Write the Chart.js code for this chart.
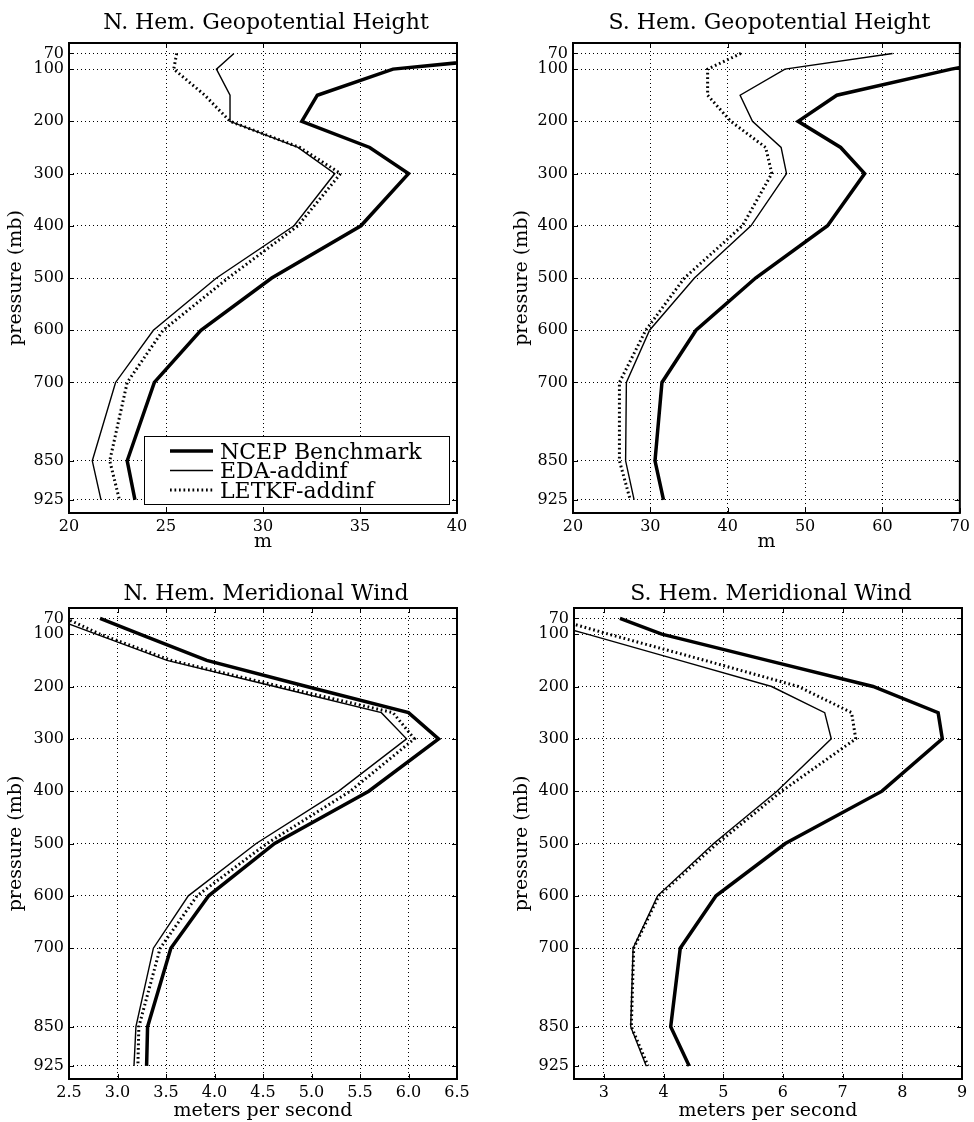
<!DOCTYPE html>
<html>
<head>
<meta charset="utf-8">
<script src="https://cdn.jsdelivr.net/npm/chart.js@4.4.1/dist/chart.umd.min.js"></script>
<style>
  body { margin: 0; background: #fff; }
  #wrap { position: relative; width: 974px; height: 1122px; }
  canvas { position: absolute; }
</style>
</head>
<body>
<div id="wrap">
  <canvas id="nhHgt" width="487" height="560" style="left:0;top:0"></canvas>
  <canvas id="shHgt" width="487" height="560" style="left:487px;top:0"></canvas>
  <canvas id="nhWind" width="487" height="556" style="left:0;top:566px"></canvas>
  <canvas id="shWind" width="487" height="556" style="left:487px;top:566px"></canvas>
</div>
<script>
// pressure levels (mb) and the labelled ticks
const levels = [70, 100, 150, 200, 250, 300, 400, 500, 600, 700, 850, 925];
const pressureTicks = [70, 100, 200, 300, 400, 500, 600, 700, 850, 925];
const seriesNames = ['NCEP Benchmark', 'EDA-addinf', 'LETKF-addinf'];

// geopotential height (m)
const nhHgtNcep  = [45.0, 36.7, 32.8, 32.0, 35.5, 37.5, 35.05, 30.45, 26.8, 24.4, 23.0, 23.4];
const nhHgtEda   = [28.5, 27.6, 28.3, 28.3, 31.8, 33.7, 31.6, 27.6, 24.35, 22.4, 21.2, 21.65];
const nhHgtLetkf = [25.55, 25.4, 27.0, 28.3, 31.9, 34.0, 31.8, 28.2, 24.85, 23.0, 22.1, 22.6];
const shHgtNcep  = [80.0, 68.9, 54.1, 49.1, 54.6, 57.7, 52.9, 43.6, 35.9, 31.5, 30.6, 31.7];
const shHgtEda   = [61.3, 47.4, 41.6, 43.2, 46.9, 47.6, 43.0, 35.7, 29.9, 26.9, 26.8, 27.9];
const shHgtLetkf = [41.7, 37.4, 37.4, 40.4, 44.9, 45.7, 41.9, 34.4, 29.4, 26.0, 26.0, 27.4];

// meridional wind (m/s)
const nhWindNcep  = [2.82, 3.23, 3.92, 4.95, 6.0, 6.31, 5.59, 4.62, 3.94, 3.55, 3.31, 3.30];
const nhWindEda   = [2.35, 2.78, 3.51, 4.62, 5.72, 5.98, 5.28, 4.43, 3.73, 3.37, 3.19, 3.17];
const nhWindLetkf = [2.47, 2.82, 3.55, 4.68, 5.84, 6.06, 5.40, 4.54, 3.82, 3.44, 3.22, 3.21];
const shWindNcep  = [3.27, 3.97, 5.74, 7.51, 8.60, 8.67, 7.66, 6.04, 4.88, 4.28, 4.12, 4.43];
const shWindEda   = [1.78, 2.72, 4.27, 5.81, 6.70, 6.81, 5.90, 4.84, 3.90, 3.49, 3.45, 3.71];
const shWindLetkf = [2.17, 3.08, 4.69, 6.26, 7.15, 7.22, 5.98, 4.90, 3.92, 3.50, 3.46, 3.74];

// x ticks per panel
const nhHgtTicks = [20, 25, 30, 35, 40];
const shHgtTicks = [20, 30, 40, 50, 60, 70];
const nhWindTicks = [2.5, 3.0, 3.5, 4.0, 4.5, 5.0, 5.5, 6.0, 6.5];
const shWindTicks = [3, 4, 5, 6, 7, 8, 9];

const SERIF = '"DejaVu Serif", serif';

const panelDecor = {
  id: 'panelDecor',
  afterDatasetsDraw(chart, args, opts) {
    const { ctx, chartArea: a, scales } = chart;
    ctx.save();

    if (opts.legend) {
      const bx = a.left + 75, by = a.bottom - 77;
      const bw = a.right - 8 - bx, bh = 68;
      ctx.fillStyle = '#fff';
      ctx.fillRect(bx, by, bw, bh);
      ctx.strokeStyle = '#000';
      ctx.lineWidth = 1;
      ctx.strokeRect(bx + 0.5, by + 0.5, bw, bh);
      chart.data.datasets.forEach((ds, i) => {
        const yy = by + 15 + i * 19.5;
        ctx.lineWidth = ds.borderWidth;
        ctx.setLineDash(ds.borderDash || []);
        ctx.beginPath();
        ctx.moveTo(bx + 26, yy);
        ctx.lineTo(bx + 69, yy);
        ctx.stroke();
        ctx.setLineDash([]);
        ctx.fillStyle = '#000';
        ctx.font = '22px ' + SERIF;
        ctx.textAlign = 'left';
        ctx.textBaseline = 'alphabetic';
        ctx.fillText(ds.label, bx + 76, yy + 7.5);
      });
    }

    // inward tick marks on all four sides
    ctx.strokeStyle = '#000';
    ctx.lineWidth = 1;
    ctx.setLineDash([]);
    ctx.beginPath();
    scales.x.ticks.forEach(t => {
      const px = Math.round(scales.x.getPixelForValue(t.value)) + 0.5;
      ctx.moveTo(px, a.bottom); ctx.lineTo(px, a.bottom - 5);
      ctx.moveTo(px, a.top); ctx.lineTo(px, a.top + 5);
    });
    scales.y.ticks.forEach(t => {
      const py = Math.round(scales.y.getPixelForValue(t.value)) + 0.5;
      ctx.moveTo(a.left, py); ctx.lineTo(a.left + 5, py);
      ctx.moveTo(a.right, py); ctx.lineTo(a.right - 5, py);
    });
    ctx.stroke();

    // frame
    ctx.lineWidth = 2;
    ctx.strokeRect(a.left, a.top, a.right - a.left, a.bottom - a.top);

    // title
    ctx.fillStyle = '#000';
    ctx.font = '22px ' + SERIF;
    ctx.textAlign = 'center';
    ctx.textBaseline = 'alphabetic';
    ctx.fillText(opts.title, (a.left + a.right) / 2 + 3, a.top - opts.titleGap);
    ctx.restore();
  }
};

function makePanel(id, p) {
  const styles = [
    { borderWidth: 3.5, borderDash: [] },
    { borderWidth: 1.4, borderDash: [] },
    { borderWidth: 3, borderDash: [1.7, 2.8] }
  ];
  const datasets = p.series.map((vals, i) => ({
    label: seriesNames[i],
    data: levels.map((lev, j) => ({ x: vals[j], y: lev })),
    borderColor: '#000',
    borderWidth: styles[i].borderWidth,
    borderDash: styles[i].borderDash,
    pointRadius: 0,
    tension: 0,
    fill: false
  }));

  return new Chart(document.getElementById(id), {
    type: 'line',
    data: { datasets },
    options: {
      responsive: false,
      animation: false,
      layout: { padding: { top: p.top, right: p.right, left: 0, bottom: 0 } },
      plugins: {
        legend: { display: false },
        tooltip: { enabled: false },
        panelDecor: { title: p.title, titleGap: p.titleGap, legend: !!p.legend }
      },
      scales: {
        x: {
          type: 'linear',
          min: p.xMin,
          max: p.xMax,
          afterBuildTicks: (axis) => { axis.ticks = p.xTicks.map(v => ({ value: v })); },
          afterFit: (axis) => { axis.height = p.xHeight; },
          grid: { color: '#000', lineWidth: 1, drawTicks: false },
          border: { display: false, dash: [1, 3] },
          ticks: {
            autoSkip: false,
            maxRotation: 0,
            padding: 4,
            color: '#000',
            font: { family: SERIF, size: 16 },
            callback: (v) => v.toFixed(p.decimals)
          },
          title: {
            display: true,
            text: p.xLabel,
            color: '#000',
            font: { family: SERIF, size: 19 },
            padding: { top: 0, bottom: p.xLabelPad }
          }
        },
        y: {
          type: 'linear',
          reverse: true,
          min: 50,
          max: 950,
          afterBuildTicks: (axis) => { axis.ticks = pressureTicks.map(v => ({ value: v })); },
          afterFit: (axis) => { axis.width = p.yWidth; },
          grid: { color: '#000', lineWidth: 1, drawTicks: false },
          border: { display: false, dash: [1, 3] },
          ticks: {
            autoSkip: false,
            padding: 5,
            color: '#000',
            font: { family: SERIF, size: 16 },
            callback: (v) => String(v)
          },
          title: {
            display: true,
            text: 'pressure (mb)',
            color: '#000',
            font: { family: SERIF, size: 19 },
            padding: { top: p.yLabelPad, bottom: 0 }
          }
        }
      }
    },
    plugins: [panelDecor]
  });
}

makePanel('nhHgt', {
  title: 'N. Hem. Geopotential Height', titleGap: 14,
  series: [nhHgtNcep, nhHgtEda, nhHgtLetkf], legend: true,
  xMin: 20, xMax: 40, xTicks: nhHgtTicks, decimals: 0, xLabel: 'm',
  top: 43, right: 30, yWidth: 69, xHeight: 47, xLabelPad: 7, yLabelPad: 5
});
makePanel('shHgt', {
  title: 'S. Hem. Geopotential Height', titleGap: 14,
  series: [shHgtNcep, shHgtEda, shHgtLetkf],
  xMin: 20, xMax: 70, xTicks: shHgtTicks, decimals: 0, xLabel: 'm',
  top: 43, right: 12, yWidth: 86, xHeight: 47, xLabelPad: 7, yLabelPad: 24
});
makePanel('nhWind', {
  title: 'N. Hem. Meridional Wind', titleGap: 8,
  series: [nhWindNcep, nhWindEda, nhWindLetkf],
  xMin: 2.5, xMax: 6.5, xTicks: nhWindTicks, decimals: 1, xLabel: 'meters per second',
  top: 42, right: 30, yWidth: 69, xHeight: 43, xLabelPad: 0, yLabelPad: 5
});
makePanel('shWind', {
  title: 'S. Hem. Meridional Wind', titleGap: 8,
  series: [shWindNcep, shWindEda, shWindLetkf],
  xMin: 2.5, xMax: 9, xTicks: shWindTicks, decimals: 0, xLabel: 'meters per second',
  top: 42, right: 12, yWidth: 87, xHeight: 43, xLabelPad: 0, yLabelPad: 24
});
</script>
</body>
</html>
